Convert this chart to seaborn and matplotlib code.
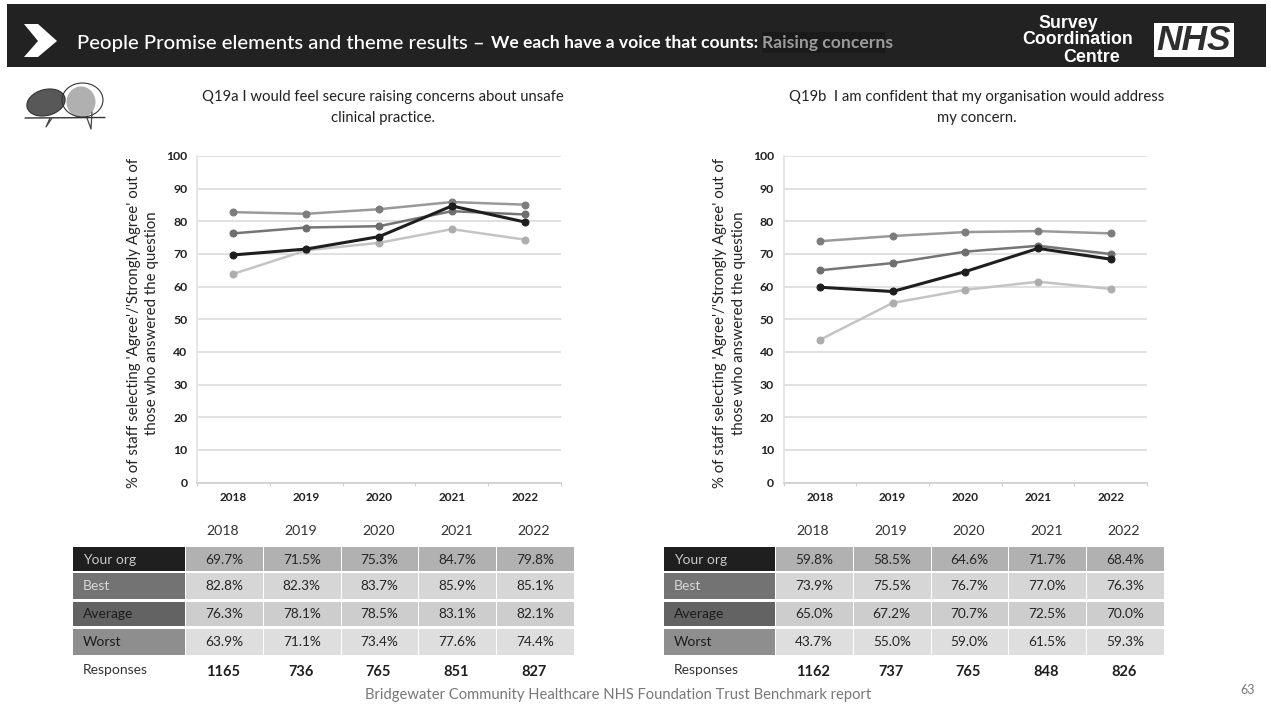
import matplotlib
matplotlib.use("Agg")
import matplotlib.pyplot as plt
from matplotlib.patches import Ellipse, Polygon, Rectangle
import pandas as pd
import seaborn as sns

years = ["2018", "2019", "2020", "2021", "2022"]
groups = ["Your org", "Best", "Average", "Worst"]

q19a_your_org = [69.7, 71.5, 75.3, 84.7, 79.8]
q19a_best = [82.8, 82.3, 83.7, 85.9, 85.1]
q19a_average = [76.3, 78.1, 78.5, 83.1, 82.1]
q19a_worst = [63.9, 71.1, 73.4, 77.6, 74.4]
q19a_responses = [1165, 736, 765, 851, 827]

q19b_your_org = [59.8, 58.5, 64.6, 71.7, 68.4]
q19b_best = [73.9, 75.5, 76.7, 77.0, 76.3]
q19b_average = [65.0, 67.2, 70.7, 72.5, 70.0]
q19b_worst = [43.7, 55.0, 59.0, 61.5, 59.3]
q19b_responses = [1162, 737, 765, 848, 826]

q19a_title = "Q19a I would feel secure raising concerns about unsafe\nclinical practice."
q19b_title = "Q19b  I am confident that my organisation would address\nmy concern."
y_label = "% of staff selecting 'Agree'/'Strongly Agree' out of\nthose who answered the question"
footer = "Bridgewater Community Healthcare NHS Foundation Trust Benchmark report"
page_number = "63"

line_colours = {"Your org": "#1e1e1e", "Best": "#999999", "Average": "#757575", "Worst": "#c4c4c4"}
marker_colours = {"Your org": "#1e1e1e", "Best": "#7c7c7c", "Average": "#6e6e6e", "Worst": "#adadad"}
label_fill = {"Your org": "#1f1f1f", "Best": "#737373", "Average": "#636363", "Worst": "#8e8e8e"}
label_text = {"Your org": "#c8c8c8", "Best": "#d8d8d8", "Average": "#1c1c1c", "Worst": "#1c1c1c"}
cell_fill = {"Your org": "#b1b1b1", "Best": "#d6d6d6", "Average": "#cdcdcd", "Worst": "#dedede"}

W, H = 1271, 708
sns.set_theme(style="white")
plt.rcParams["font.family"] = ["Lato", "DejaVu Sans"]
TEXT = "#222222"

fig = plt.figure(figsize=(W / 100, H / 100), dpi=100, facecolor="white")

# Page-level overlay working in pixel coordinates, y pointing down
page = fig.add_axes([0, 0, 1, 1], zorder=0)
page.set_xlim(0, W)
page.set_ylim(H, 0)
page.axis("off")


def long_table(series):
    return pd.DataFrame(
        [{"year": y, "group": g, "value": v}
         for g, vals in zip(groups, series) for y, v in zip(years, vals)]
    )


def draw_chart(left, right, series, title, title_x):
    top, bottom = 156, 482.5
    ax = fig.add_axes([left / W, 1 - bottom / H, (right - left) / W, (bottom - top) / H], zorder=2)
    ax.patch.set_alpha(0)
    ax.yaxis.grid(True, color="#d9d9d9", lw=1.1, zorder=0)
    ax.set_axisbelow(True)
    # Worst goes down first so that the darker lines lie on top
    frame = long_table(series)
    for group in ["Worst", "Best", "Average", "Your org"]:
        sns.lineplot(
            data=frame[frame["group"] == group], x="year", y="value", ax=ax, sort=False,
            color=line_colours[group], lw=2.2 if group == "Your org" else 1.8,
            marker="o", markersize=5, markerfacecolor=marker_colours[group],
            markeredgecolor=marker_colours[group], errorbar=None, legend=False,
        )
    ax.set_xlim(-0.5, 4.5)
    ax.set_ylim(0, 100)
    ax.set_yticks(range(0, 101, 10))
    ax.set_xticks([i + 0.5 for i in range(-1, 5)], minor=True)
    ax.tick_params(axis="x", which="minor", length=2.5, width=0.8, color="#d0d0d0", bottom=True)
    ax.tick_params(axis="x", which="major", length=0, labelsize=8.5, labelcolor=TEXT, pad=7)
    ax.tick_params(axis="y", length=0, labelsize=8.8, labelcolor=TEXT, pad=7)
    for lbl in ax.get_xticklabels() + ax.get_yticklabels():
        lbl.set_fontweight("bold")
    for side in ["top", "right"]:
        ax.spines[side].set_visible(False)
    ax.spines["left"].set_color("#e4e4e4")
    ax.spines["bottom"].set_color("#d0d0d0")
    ax.set_xlabel("")
    ax.set_ylabel("")
    page.text(left - 54, 323, y_label, rotation=90, ha="center", va="center",
              fontsize=10.8, color=TEXT, linespacing=1.42)
    page.text(title_x, 107.5, title, ha="center", va="center", fontsize=10.7,
              color=TEXT, linespacing=1.62)


def draw_table(x0, x_label_end, x1, series, responses):
    col_w = (x1 - x_label_end) / 5
    rows = [(547, 571), (573, 599), (602, 626), (629, 655)]
    for i, y in enumerate(years):
        page.text(x_label_end + (i + 0.5) * col_w - 1, 531, y, ha="center", va="center",
                  fontsize=10.2, color="#333333")
    for group, vals, (y0, y1) in zip(groups, series, rows):
        page.add_patch(Rectangle((x0, y0), x_label_end - x0, y1 - y0, fc=label_fill[group], ec="none"))
        page.text(x0 + 10, (y0 + y1) / 2 + 0.5, group, ha="left", va="center",
                  fontsize=10, color=label_text[group])
        for i, v in enumerate(vals):
            page.add_patch(Rectangle((x_label_end + i * col_w + 1, y0), col_w - 1, y1 - y0,
                                     fc=cell_fill[group], ec="none"))
            page.text(x_label_end + (i + 0.5) * col_w, (y0 + y1) / 2 + 0.5, f"{v:.1f}%",
                      ha="center", va="center", fontsize=9.8, color="#262626")
    page.text(x0 + 10, 670, "Responses", ha="left", va="center", fontsize=10, color="#333333")
    for i, r in enumerate(responses):
        page.text(x_label_end + (i + 0.5) * col_w - 1, 671.5, str(r), ha="center", va="center",
                  fontsize=10.5, fontweight="bold", color="#1e1e1e")


# Header band
page.add_patch(Rectangle((7, 4), 1259, 63, fc="#222222", ec="none", zorder=1))
page.add_patch(Rectangle((762, 32), 123, 21, fc="#1a1a1a", ec="none", zorder=1.5))
page.add_patch(Polygon([(24, 24), (38, 24), (57, 41), (38, 57), (24, 57), (38, 41)],
                       fc="white", ec="none", zorder=2))
page.text(77, 43.5, "People Promise elements and theme results \u2013", fontsize=14.7,
          color="white", ha="left", va="center", fontweight="medium", zorder=3)
page.text(491, 43, "We each have a voice that counts:", fontsize=12.6, color="white",
          ha="left", va="center", fontweight="bold", zorder=3)
page.text(762, 43, "Raising concerns", fontsize=12.6, color="#9a9a9a",
          ha="left", va="center", fontweight="bold", zorder=3)
for txt, x, y in [("Survey", 1068, 23), ("Coordination", 1078, 40), ("Centre", 1092, 57)]:
    page.text(x, y, txt, fontsize=12.8, color="white", ha="center", va="center",
              fontweight="bold", family="Liberation Sans", zorder=3)
page.add_patch(Rectangle((1154, 23), 80, 34, fc="white", ec="none", zorder=2))
page.text(1194, 40.5, "NHS", fontsize=25.5, color="#2e2e2e", ha="center", va="center",
          fontweight="bold", style="italic", family="Liberation Sans", zorder=3)

# Speech-bubble emblem beside the first question
page.add_patch(Ellipse((46, 102.5), 39, 26, angle=-15, fc="#585858", ec="#333333", lw=0.8, zorder=2))
page.add_patch(Ellipse((81, 102), 29, 31, angle=0, fc="#b0b0b0", ec="none", zorder=3))
page.add_patch(Ellipse((82.5, 100), 41, 34, angle=0, fc="none", ec="#333333", lw=0.8, zorder=3))
page.plot([25, 105], [118, 117.5], color="#333333", lw=1, zorder=4)
page.plot([50, 46, 52], [118, 127, 118], color="#444444", lw=0.9, zorder=4)
page.plot([87, 91, 92], [118, 129, 112], color="#444444", lw=0.9, zorder=4)

q19a = [q19a_your_org, q19a_best, q19a_average, q19a_worst]
q19b = [q19b_your_org, q19b_best, q19b_average, q19b_worst]

draw_chart(197, 561, q19a, q19a_title, 383)
draw_chart(783.6, 1147, q19b, q19b_title, 977)
draw_table(73, 185, 574, q19a, q19a_responses)
draw_table(664, 775, 1164, q19b, q19b_responses)

page.text(618, 695, footer, ha="center", va="center", fontsize=10.65, color="#777777")
page.text(1248, 690, page_number, ha="center", va="center", fontsize=9, color="#777777")

fig.savefig("out.png", dpi=100, facecolor="white")
